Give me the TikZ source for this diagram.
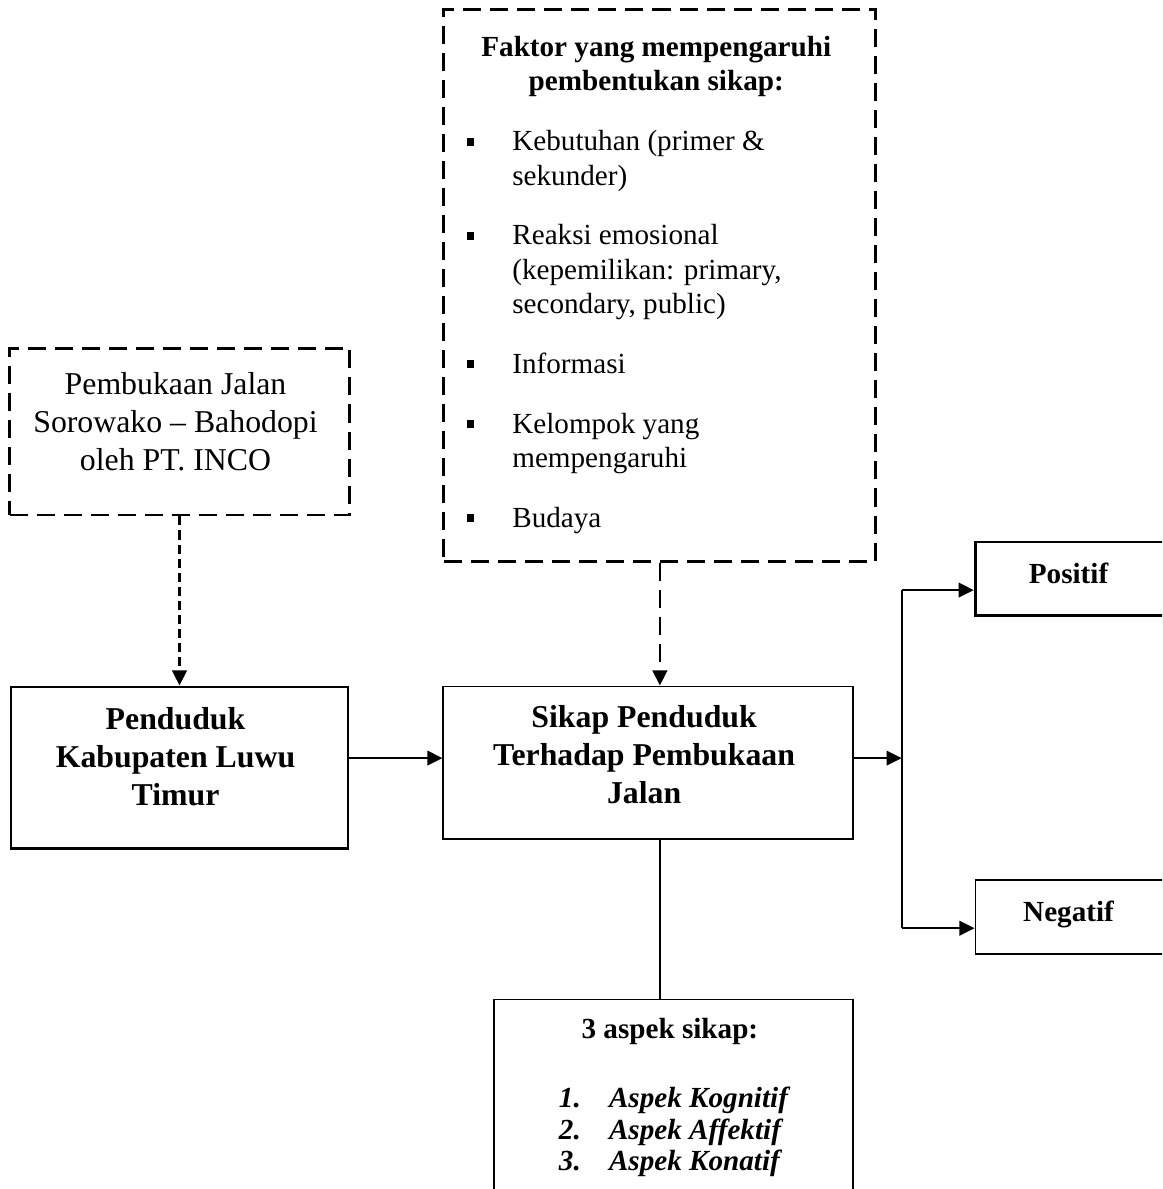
\documentclass[tikz,border=0pt]{standalone}
\usepackage{fontspec}
\setmainfont{Liberation Serif}
\usetikzlibrary{positioning,arrows.meta}

\begin{document}
\begin{tikzpicture}[
		x=0.3774pt,y=-0.3774pt,
		mybox/.style={draw,line width=1.1pt,inner sep=0pt,align=center},
		mythin/.style={mybox,line width=0.5pt},
		mydash/.style={mybox,dash pattern=on 6.8pt off 3.4pt},
		myline/.style={line width=0.75pt},
		myarrow/.style={myline,-{Triangle[length=5.7pt,width=5.5pt]}}
		]
		\useasboundingbox (0,0) rectangle (1162,1189);
		\clip (0,0) rectangle (1162,1189);
		\node[mybox,minimum width=127.2pt,minimum height=60.8pt] (penduduk) at (179.5,767.5)
		{\fontsize{12}{14.3}\selectfont\bfseries
			\begin{tabular}{c}
				Penduduk \\
				Kabupaten Luwu \\
				Timur \\[5.6pt]
			\end{tabular}
		};
		\node[mydash,minimum width=128.3pt,minimum height=63pt,above=63.8pt of penduduk] (pembukaan)
		{\fontsize{12}{14.3}\selectfont
			\begin{tabular}{c}
				Pembukaan Jalan \\
				Sorowako – Bahodopi \\
				oleh PT. INCO \\[5pt]
			\end{tabular}
		};
		\node[mythin,minimum width=154.7pt,minimum height=57.7pt,
			right=35.1pt of penduduk.north east,anchor=north west] (sikap)
		{\fontsize{12}{14.3}\selectfont\bfseries
			\begin{tabular}{c}
				Sikap Penduduk \\
				Terhadap Pembukaan \\
				Jalan \\[3.6pt]
			\end{tabular}
		};
		\node[mydash,minimum width=163pt,minimum height=208.3pt,
			above=46.4pt of sikap.north west,anchor=south west] (faktor)
		{\fontsize{11}{12.9}\selectfont
			\begin{tabular}{@{}p{19.3pt}@{}p{127.9pt}@{}}
				\multicolumn{2}{@{}c@{}}{\bfseries Faktor yang mempengaruhi} \\
				\multicolumn{2}{@{}c@{}}{\bfseries pembentukan sikap:} \\[9.7pt]
				\hspace{2pt}\rule[2pt]{3pt}{3pt} & Kebutuhan (primer \& \\
				& sekunder) \\[9.7pt]
				\hspace{2pt}\rule[2pt]{3pt}{3pt} & Reaksi emosional \\
				& (kepemilikan: primary, \\
				& secondary, public) \\[9.7pt]
				\hspace{2pt}\rule[2pt]{3pt}{3pt} & Informasi \\[9.7pt]
				\hspace{2pt}\rule[2pt]{3pt}{3pt} & Kelompok yang \\
				& mempengaruhi \\[9.7pt]
				\hspace{2pt}\rule[2pt]{3pt}{3pt} & Budaya \\
			\end{tabular}
		};
		\node[mythin,minimum width=135.5pt,inner ysep=6.4pt,
			below=60pt of sikap,xshift=9.6pt] (aspek)
		{\fontsize{11}{11.9}\selectfont\bfseries
			\begin{tabular}{@{\hspace{3.6pt}}p{18.9pt}@{}l@{}}
				\multicolumn{2}{@{}c@{}}{3 aspek sikap:} \\[14.2pt]
				\textit{1.} & \textit{Aspek Kognitif} \\
				\textit{2.} & \textit{Aspek Affektif} \\
				\textit{3.} & \textit{Aspek Konatif} \\[30pt]
			\end{tabular}
		};
		\coordinate[right=18.1pt of sikap,yshift=1.7pt] (split);
		\node[mybox,minimum width=73.2pt,minimum height=27.9pt,
			right=27.2pt of split,yshift=67.6pt] (positif)
		{\fontsize{11}{13.2}\selectfont\bfseries
			\begin{tabular}{c}
				Positif \\[1.8pt]
			\end{tabular}
		};
		\node[mythin,minimum width=73.2pt,minimum height=27.9pt,
			below=98.9pt of positif] (negatif)
		{\fontsize{11}{13.2}\selectfont\bfseries
			\begin{tabular}{c}
				Negatif \\[2pt]
			\end{tabular}
		};
		\coordinate (inpos) at ([yshift=-4.2pt]positif.west);
		\coordinate (inneg) at ([yshift=-4.2pt]negatif.west);
		\draw[myarrow,line width=1pt,dash pattern=on 3.4pt off 1.9pt] (pembukaan) -- (penduduk);
		\draw[myarrow,line width=1pt,dash pattern=on 6.8pt off 3.4pt]
			(faktor.south) -- (faktor.south |- sikap.north);
		\draw[myarrow] (penduduk.east |- split) -- (sikap.west |- split);
		\draw[myarrow] (sikap.east |- split) -- (split);
		\draw[myline] (split |- inpos) -- (split |- inneg);
		\draw[myarrow] (split |- inpos) -- (inpos);
		\draw[myarrow] (split |- inneg) -- (inneg);
		\draw[line width=0.5pt] (faktor.south |- sikap.south) -- (faktor.south |- aspek.north);
	\end{tikzpicture}
\end{document}
